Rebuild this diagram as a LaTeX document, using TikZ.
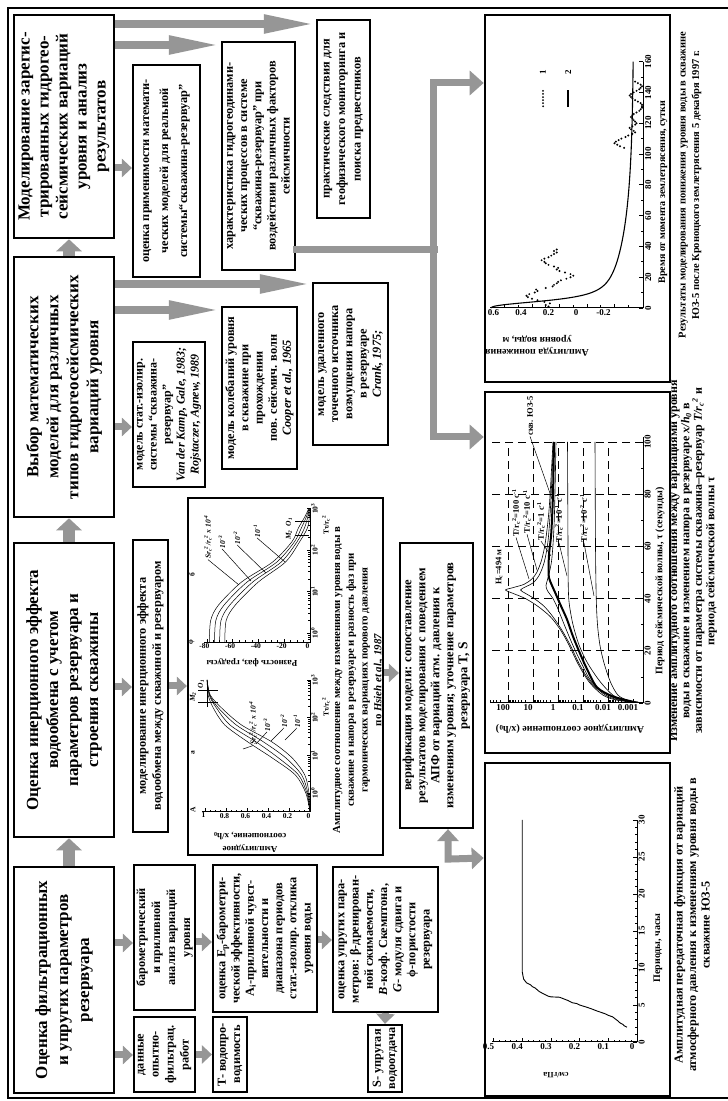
\documentclass[tikz,border=0pt]{standalone}
\usepackage{fontspec}
\setmainfont{Liberation Serif}
\usetikzlibrary{arrows.meta,calc}
\definecolor{agray}{RGB}{150,150,150}
\newcommand{\mysub}[1]{\textsubscript{#1}}
\newcommand{\mysup}[1]{\textsuperscript{#1}}
\begin{document}
\begin{tikzpicture}[x=1pt,y=-1pt,rotate=90,transform shape,
 every node/.style={font=\bfseries},
 mbox/.style={draw,line width=2.6pt,align=center,inner sep=0pt,font=\fontsize{17}{20}\selectfont\bfseries},
 sbox/.style={draw,line width=2.2pt,align=center,inner sep=0pt,font=\fontsize{12.3}{14.2}\selectfont\bfseries},
 pframe/.style={draw,line width=2.6pt,inner sep=0pt},
 bigarr/.style={draw=agray,line width=12pt,-{Triangle[length=12pt,width=25pt]}},
 smarr/.style={draw=agray,line width=7pt,-{Triangle[length=10pt,width=18pt]}},
 lgarr/.style={draw=agray,line width=8pt,-{Triangle[length=52pt,width=17pt]}},
 connln/.style={draw=agray,line width=7pt,line cap=rect},
 connarr/.style={draw=agray,line width=7pt,-{Triangle[length=14pt,width=24pt]}},
 axln/.style={line width=1pt},
 tk/.style={line width=0.6pt},
 tlab/.style={font=\fontsize{9}{10}\selectfont\bfseries,inner sep=1.5pt},
 ytlab/.style={font=\fontsize{9}{10}\selectfont\bfseries,inner sep=1.5pt,rotate=-90,anchor=north},
 ctlab/.style={font=\fontsize{7.5}{8}\selectfont\bfseries,inner sep=1pt},
 cytlab/.style={font=\fontsize{7.5}{8}\selectfont\bfseries,inner sep=1pt,rotate=-90,anchor=north},
 alab/.style={font=\fontsize{10}{12}\selectfont\bfseries,align=center,inner sep=0pt},
 captxt/.style={align=center,inner sep=0pt},
 gridd/.style={line width=0.9pt,dash pattern=on 8pt off 5pt},
 leadln/.style={line width=0.5pt},
 clab/.style={font=\fontsize{7.5}{8}\selectfont\bfseries\itshape,inner sep=0.5pt},
 plab/.style={font=\fontsize{8.5}{9}\selectfont\bfseries,inner sep=0.5pt},
]
\fill[white] (0,0) rectangle (1101,728);
\useasboundingbox (0,0) rectangle (1101,728);
\draw[line width=2.6pt] (3,728) -- (3,8) -- (1093,8) -- (1093,728);

% main boxes
\node[mbox,minimum width=223pt,minimum height=100pt,font=\fontsize{17}{19}\selectfont\bfseries] (M1) at (974.5,64) {Моделирование зарегис-\\трированных гидрогео-\\сейсмических вариаций\\уровня и анализ\\результатов};
\node[mbox,minimum width=260pt,minimum height=100pt] (M2) at (714,64) {Выбор математических\\моделей для различных\\типов гидрогеосейсмических\\вариаций уровня};
\node[mbox,minimum width=294pt,minimum height=100pt] (M3) at (411,64) {Оценка инерционного эффекта\\водообмена с учетом\\параметров резервуара и\\строения скважины};
\node[mbox,minimum width=226pt,minimum height=100pt,font=\fontsize{17}{21}\selectfont\bfseries] (M4) at (121,64) {Оценка фильтрационных\\и упругих параметров\\резервуара};

% sub boxes
\node[sbox,minimum width=212pt,minimum height=67pt,font=\fontsize{12.3}{19}\selectfont\bfseries] (A1) at (930,166.5) {оценка применимости математи-\\ческих моделей для реальной\\системы“скважина-резервуар”};
\node[sbox,minimum width=145pt,minimum height=72pt,font=\fontsize{12}{14}\selectfont\bfseries] (B1) at (686.5,169) {модель стат.-изолир.\\системы “скважина-\\резервуар”\\\textit{Van der Kamp, Gale, 1983;}\\\textit{Rojstaczer, Agnew, 1989}};
\node[sbox,minimum width=292pt,minimum height=35pt,font=\fontsize{12.3}{15}\selectfont\bfseries] (C1) at (415,150.5) {моделирование инерционного эффекта\\водообмена между скважиной и резервуаром};
\node[sbox,minimum width=145pt,minimum height=61pt,font=\fontsize{12.3}{15}\selectfont\bfseries] (D1) at (163.5,164.5) {барометрический\\и приливной\\анализ вариаций\\уровня};
\node[sbox,minimum width=75pt,minimum height=61pt,font=\fontsize{12.3}{15}\selectfont\bfseries] (D0) at (46.5,164.5) {данные\\опытно-\\фильтрац.\\работ};
\node[sbox,minimum width=228pt,minimum height=73pt] (A2) at (945,258.5) {характеристика гидрогеодинами-\\ческих процессов в системе\\“скважина-резервуар” при\\воздействии различных факторов\\сейсмичности};
\node[sbox,minimum width=162pt,minimum height=75pt] (B2) at (713,259.5) {модель колебаний уровня\\в скважине при\\прохождении\\пов. сейсмич. волн\\\textit{Cooper et al., 1965}};
\node[sbox,minimum width=198pt,minimum height=53pt,font=\fontsize{12.3}{15.5}\selectfont\bfseries] (A3) at (982,343.5) {практические следствия для\\геофизического мониторинга и\\поиска предвестников};
\node[sbox,minimum width=162pt,minimum height=75pt] (B3) at (737,350.5) {модель удаленного\\точечного источника\\возмущения напора\\в резервуаре\\\textit{Crank, 1975;}};
\node[sbox,minimum width=357pt,minimum height=195pt] (CH) at (424.5,285.5) {};
\node[sbox,minimum width=285pt,minimum height=73pt,font=\fontsize{12.5}{14}\selectfont\bfseries] (V) at (415.5,436.5) {верификация модели: сопоставление\\результатов моделирования с поведением\\АПФ от вариаций атм. давления к\\изменениям уровня; уточнение параметров\\резервуара {\fontsize{13.5}{14}\selectfont T, S}};
\node[sbox,minimum width=75pt,minimum height=34pt] (E1) at (46.5,230) {T- водопро-\\водимость};
\node[sbox,minimum width=147pt,minimum height=104pt] (E2) at (162.5,265) {оценка E\mysub{p}-барометри-\\ческой эффективности,\\A\mysub{i}-приливной чувст-\\вительности и\\диапазона периодов\\стат.-изолир. отклика\\уровня воды};
\node[sbox,minimum width=145pt,minimum height=105pt] (F1) at (161.5,385.5) {оценка упругих пара-\\метров: β-дренирован-\\ной сжимаемости,\\\textit{B}-коэф. Скемптона,\\\textit{G}- модуля сдвига и\\ϕ-пористости\\резервуара};
\node[sbox,minimum width=67pt,minimum height=34pt] (F2) at (42.5,385) {S- упругая\\водоотдача};

% plot frames
\node[pframe,minimum width=367pt,minimum height=185pt] (P1) at (902.5,577.5) {};
\node[pframe,minimum width=361pt,minimum height=185pt] (P2) at (528.5,577.5) {};
\node[pframe,minimum width=333pt,minimum height=185pt] (P3) at (171.5,577.5) {};

% arrows between main boxes
\draw[bigarr] ($(M4.east)+(0,5)$) -- ($(M3.west)+(0,5)$);
\draw[bigarr] ($(M3.east)+(0,5)$) -- ($(M2.west)+(0,5)$);
\draw[bigarr] ($(M2.east)+(0,5)$) -- ($(M1.west)+(0,5)$);
% short arrows
\draw[smarr] ($(M1.south)+(-41.5,0)$) -- ($(A1.north)+(3,0)$);
\draw[smarr] ($(M2.south)+(-40,0)$) -- ($(B1.north)+(-12.5,0)$);
\draw[smarr] ($(M3.south)+(3,0)$) -- ($(C1.north)+(-1,0)$);
\draw[smarr] ($(M4.south)+(37,0)$) -- ($(D1.north)+(-5.5,0)$);
\draw[smarr] ($(M4.south)+(-75,0)$) -- ($(D0.north)+(-0.5,0)$);
\draw[smarr] ($(D1.south)+(-4.5,0)$) -- ($(E2.north)+(-3.5,0)$);
\draw[smarr] (D0.south) -- (E1.north);
\draw[smarr] ($(E2.south)+(-1.5,0)$) -- ($(F1.north)+(-0.5,0)$);
\draw[smarr] (F1.west) -- (F2.east);
\draw[smarr] (C1.south) -- ($(CH.north)+(-9.5,0)$);
\draw[smarr] ($(CH.south)+(3.5,0)$) -- ($(V.north)+(12.5,0)$);
% long arrows
\draw[lgarr] ($(M1.south)+(102.5,0)$) -- ($(A3.north)+(95,0)$);
\draw[lgarr] ($(M1.south)+(81.5,0)$) -- ($(A2.north)+(111,0)$);
\draw[lgarr] ($(M2.south)+(103,0)$) -- ($(B3.north)+(80,0)$);
\draw[lgarr] ($(M2.south)+(77,0)$) -- ($(B2.north)+(78,0)$);
% connector to plots
\coordinate (hubA) at (1018,433);
\coordinate (hubB) at (664,433);
\draw[connln] ($(A2.south)+(-94,0)$) -- ($(A2.south)+(-94,138)$);
\draw[connln] (hubA) -- (hubB);
\draw[connarr] (hubA) -- ($(P1.north)+(115.5,0)$);
\draw[connarr] (hubB) -- ($(P2.north)+(135.5,0)$);
\draw[draw=agray,line width=7pt,{Triangle[length=12pt,width=21pt]}-{Triangle[length=12pt,width=21pt]}] ($(V.west)+(0,11.5)$) -- ++(-30,0) -- ($(P3.north)+(71.5,0)$);

% ===== Plot 1 =====
\begin{scope}[shift={(793,587)},x=1.54pt,y=137.5pt]
 \draw[axln] (0,0.705) -- (0,-0.41) -- (160,-0.41);
 \foreach \t in {0,20,...,160} {\draw[tk] (\t,-0.41) -- ++(0pt,4pt); \node[tlab,anchor=north] at (\t,-0.41) {\t};}
 \foreach \t in {10,30,...,150} \draw[tk] (\t,-0.41) -- ++(0pt,2.5pt);
 \foreach \v/\l in {0.6/0.6,0.4/0.4,0.2/0.2,0/0,-0.2/-0.2} {\draw[tk] (0,\v) -- ++(4pt,0pt); \node[ytlab,xshift=-11pt] at (0,\v) {\l};}
 \foreach \v in {0.5,0.3,0.1,-0.1,-0.3} \draw[tk] (0,\v) -- ++(2.5pt,0pt);
 \draw[line width=1.1pt,smooth,domain=0.05:160,samples=160] plot (\x,{-0.34+0.8/(1+(\x/5)^2.5)+0.24*exp(-\x/40)});
 \foreach \t/\a in {1/0.28,2/0.30,3/0.27,4/0.31,5/0.36,6/0.40,7/0.43,8/0.44,9/0.42,10/0.38,11/0.36,12/0.37,13/0.30,14/0.25,15/0.24,16/0.22,17/0.21,18/0.19,19/0.15,20/0.12,21/0.10,22/0.12,23/0.16,24/0.20,25/0.22,26/0.21,27/0.24,28/0.28,29/0.30,30/0.31,31/0.33,32/0.31,33/0.28,34/0.26,35/0.24,36/0.22,37/0.24,38/0.22,
  104/-0.27,105/-0.24,106/-0.22,107/-0.20,108/-0.21,109/-0.23,110/-0.25,111/-0.28,112/-0.30,
  113/-0.33,114/-0.35,115/-0.34,116/-0.32,117/-0.31,118/-0.33,119/-0.35,120/-0.36,121/-0.35,122/-0.34,123/-0.33,124/-0.32,125/-0.33,126/-0.34,127/-0.36,128/-0.38,129/-0.39,130/-0.40,131/-0.40,132/-0.40,133/-0.39,134/-0.37,135/-0.35,136/-0.33,137/-0.32,138/-0.31,139/-0.32,140/-0.34,141/-0.36,142/-0.38,143/-0.39,144/-0.40,145/-0.39,146/-0.37,147/-0.35}
  \fill (\t,\a) circle (1.1pt);
 \foreach \t in {131,133,...,141} \fill (\t,0.32) circle (1pt);
 \node[tlab] at (153,0.32) {1};
 \draw[line width=1.1pt] (130.5,0.138) -- (141.5,0.138);
 \node[tlab] at (153,0.138) {2};
\end{scope}
\node[alab] (x1) at (909,663) {Время от момента землетрясения, сутки};
\node[alab,rotate=90] (y1) at (755,537) {Амплитуда понижения\\уровня воды, м};
\node[captxt,font=\fontsize{10.5}{13.5}\selectfont\bfseries] (c1) at (916,690) {Результаты моделирования понижения уровня воды в скважине\\ЮЗ-5 после Кроноцкого землетрясения 5 декабря 1997 г.};

% ===== Plot 2 =====
\begin{scope}[shift={(398,558)},x=2.61pt,y=25pt]
 \foreach \t in {20,40,60,80,100} \draw[gridd] (\t,-3.4) -- (\t,2.72);
 \foreach \l in {-2,...,2} \draw[gridd] (0,\l) -- (100,\l);
 \draw[axln] (0,2.72) -- (0,-3.4) -- (102,-3.4);
 \foreach \t in {0,20,...,100} {\draw[tk] (\t,-3.4) -- ++(0pt,4pt); \node[tlab,anchor=north] at (\t,-3.4) {\t};}
 \foreach \t in {10,30,...,90} \draw[tk] (\t,-3.4) -- ++(0pt,2.5pt);
 \foreach \l/\s in {-3/0.001,-2/0.01,-1/0.1,0/1,1/10,2/100} {\draw[tk] (0,\l) -- ++(4pt,0pt); \node[ytlab,xshift=-5pt] at (0,\l) {\s};}
 \foreach \d in {-3,...,1} \foreach \k in {2,...,9} \draw[tk] (0,{\d+log10(\k)}) -- ++(2.5pt,0pt);
 \foreach \k in {2,...,5} \draw[tk] (0,{2+log10(\k)}) -- ++(2.5pt,0pt);
 \draw[line width=0.6pt] plot[smooth] coordinates {(0.3,-3.2) (1,-2.4) (3,-1.8) (8,-1.25) (15,-0.8) (22,-0.45) (28,-0.1) (33,0.3) (37,0.8) (40,1.3) (42,1.8) (43.3,2.1) (44.2,1.8) (45.5,1.35) (47.5,1.05) (50,0.85) (55,0.65) (62,0.5) (75,0.35) (100,0.2)};
 \draw[line width=0.6pt] plot[smooth] coordinates {(0.3,-3.2) (1,-2.5) (3,-1.9) (8,-1.3) (15,-0.85) (22,-0.5) (28,-0.15) (33,0.2) (37,0.55) (40,0.95) (42,1.3) (43.3,1.5) (44.5,1.3) (46,1.0) (49,0.75) (54,0.55) (62,0.4) (75,0.3) (100,0.18)};
 \draw[line width=0.6pt] plot[smooth] coordinates {(0.3,-3.2) (1,-2.6) (3,-2.0) (8,-1.35) (15,-0.95) (22,-0.6) (30,-0.25) (36,0.0) (40,0.2) (43,0.42) (45,0.48) (48,0.4) (55,0.25) (70,0.15) (100,0.08)};
 \draw[line width=0.6pt] plot[smooth] coordinates {(0.3,-3.2) (1,-2.7) (3,-2.2) (8,-1.7) (15,-1.2) (22,-0.85) (30,-0.6) (38,-0.45) (45,-0.41) (60,-0.4) (100,-0.38)};
 \draw[line width=0.6pt] plot[smooth] coordinates {(0.3,-3.2) (1,-2.8) (3,-2.4) (8,-2.1) (15,-1.85) (22,-1.68) (30,-1.58) (40,-1.53) (60,-1.5) (100,-1.48)};
 \draw[line width=2pt] plot[smooth] coordinates {(0.5,-3.0) (2.5,-2.2) (6,-1.56) (13,-1.16) (19,-0.88) (25.5,-0.6) (32,-0.36) (38,-0.08) (42,0.1) (45,0.24) (48,0.36) (52,0.38) (58,0.35) (65,0.27) (80,0.2) (100,0.16)};
\end{scope}
\node[plab] (hc) at (534,499) {H\mysub{c}=494 м};
\node[plab] (r100) at (588,516) {T/r\mysub{c}\mysup{2}=100 c\mysup{-1}};
\node[plab] (r10) at (589,527) {T/r\mysub{c}\mysup{2}=10 c\mysup{-1}};
\node[plab] (r1) at (580,541) {T/r\mysub{c}\mysup{2}=1 c\mysup{-1}};
\node[plab] (r01) at (583,559) {T/r\mysub{c}\mysup{2}=10\mysup{-1} c\mysup{-1}};
\node[plab] (r001) at (583,584) {T/r\mysub{c}\mysup{2}=10\mysup{-2} c\mysup{-1}};
\node[plab] (skv) at (685,530) {скв. ЮЗ-5};
\draw[leadln] (522,529) -- (r100.west);
\draw[leadln] (531,537) -- (r10.west);
\draw[leadln] (545,551) -- (r1.west);
\draw[leadln] (525,567) -- (r01.west);
\draw[leadln] (505,594) -- (r001.west);
\draw[leadln] (602,552) -- (skv.west);
\node[alab] (x2) at (520,660) {Период сейсмической волны, τ (секунды)};
\node[alab,rotate=90] (y2) at (372,570) {Амплитудное соотношение (x/h\mysub{0})};
\node[captxt,font=\fontsize{12}{12.4}\selectfont\bfseries] (c2) at (540,693) {Изменение амплитудного соотношения между вариациями уровня\\воды в скважине и изменением напора в резервуаре \textit{x/h\mysub{0}} в\\зависимости от параметра системы скважина–резервуар \textit{T/r\mysub{c}\mysup{2}} и\\периода сейсмической волны τ};

% ===== Plot 3 =====
\begin{scope}[shift={(59,637)},x=7.4pt,y=287pt]
 \draw[axln] (0,0.505) -- (0,0) -- (30,0);
 \foreach \t in {0,5,...,30} {\draw[tk] (\t,0) -- ++(0pt,4pt); \node[tlab,anchor=north] at (\t,0) {\t};}
 \foreach \t in {1,...,29} \draw[tk] (\t,0) -- ++(0pt,2pt);
 \foreach \v in {0,0.1,0.2,0.3,0.4,0.5} {\draw[tk] (0,\v) -- ++(4pt,0pt); \node[ytlab,xshift=-5pt] at (0,\v) {\v};}
 \foreach \i in {1,...,25} \draw[tk] (0,\i/50) -- ++(2pt,0pt);
 \draw[line width=0.9pt] plot coordinates {(2.0,0.035) (2.2,0.045) (2.4,0.05) (2.6,0.06) (2.8,0.065) (3.1,0.075) (3.4,0.085) (3.6,0.1) (3.8,0.11) (4.0,0.125) (4.2,0.14) (4.5,0.16) (4.7,0.175) (5.0,0.2) (5.2,0.21) (5.3,0.225) (5.6,0.24) (5.9,0.26) (6.05,0.27) (6.1,0.3) (6.2,0.31) (6.4,0.32) (6.6,0.33) (6.8,0.34) (7.3,0.355) (7.5,0.365) (7.7,0.37) (8,0.385) (8.5,0.395) (9.5,0.4) (12,0.4) (16,0.4) (30,0.4)};
\end{scope}
\node[alab] (x3) at (153,658) {Периоды, часы};
\node[alab,rotate=90,font=\fontsize{8}{9}\selectfont\bfseries] (y3) at (26,556) {см/гПа};
\node[captxt,font=\fontsize{12.2}{13.5}\selectfont\bfseries] (c3) at (176,692) {Амплитудная передаточная функция от вариаций\\атмосферного давления к изменениям уровня воды в\\скважине ЮЗ-5};

% ===== CH plot a =====
\begin{scope}[shift={(308,310)},x=37.7pt,y=105pt]
 \draw[axln] (-0.5,1.03) -- (-0.5,0) -- (3,0);
 \foreach \d in {0,1,2,3} {\draw[tk] (\d,0) -- ++(0pt,3.5pt); \node[ctlab,anchor=north] at (\d,0) {10\mysup{\d}};}
 \foreach \d in {0,1,2} \foreach \k in {2,...,9} \draw[tk] ({\d+log10(\k)},0) -- ++(0pt,2pt);
 \foreach \m in {-0.398,-0.301,-0.222,-0.155,-0.097,-0.046} \draw[tk] (\m,0) -- ++(0pt,2pt);
 \foreach \v/\l in {0/0,0.2/0.2,0.4/0.4,0.6/0.6,0.8/0.8,1/1} {\draw[tk] (-0.5,\v) -- ++(3.5pt,0pt); \node[cytlab,xshift=-1.5pt] at (-0.5,\v) {\l};}
 \foreach \i in {1,...,20} \draw[tk] (-0.5,\i/20) -- ++(2pt,0pt);
 \draw[line width=0.5pt] plot[smooth] coordinates {(-0.5,0) (0,0.04) (0.48,0.14) (0.93,0.36) (1.35,0.59) (1.8,0.81) (2.25,0.92) (2.6,0.97) (3,0.98)};
 \draw[line width=0.5pt] plot[smooth] coordinates {(-0.5,0) (0,0.03) (0.48,0.11) (0.93,0.30) (1.35,0.51) (1.8,0.76) (2.25,0.89) (2.6,0.96) (3,0.98)};
 \draw[line width=0.5pt] plot[smooth] coordinates {(-0.5,0) (0,0.02) (0.48,0.08) (0.93,0.23) (1.35,0.44) (1.8,0.70) (2.25,0.87) (2.6,0.955) (3,0.98)};
 \draw[line width=0.5pt] plot[smooth] coordinates {(-0.5,0) (0,0.01) (0.48,0.05) (0.93,0.17) (1.35,0.36) (1.8,0.65) (2.25,0.84) (2.6,0.95) (3,0.98)};
\end{scope}
% ===== CH plot b =====
\begin{scope}[shift={(468,310)},x=41.5pt,y=1.29pt]
 \draw[axln] (-0.22,82) -- (-0.22,0) -- (3,0);
 \foreach \d in {0,1,2,3} {\draw[tk] (\d,0) -- ++(0pt,3.5pt); \node[ctlab,anchor=north] at (\d,0) {10\mysup{\d}};}
 \foreach \d in {0,1,2} \foreach \k in {2,...,9} \draw[tk] ({\d+log10(\k)},0) -- ++(0pt,2pt);
 \foreach \m in {-0.155,-0.097,-0.046} \draw[tk] (\m,0) -- ++(0pt,2pt);
 \foreach \v/\l in {0/0,20/-20,40/-40,60/-60,80/-80} {\draw[tk] (-0.22,\v) -- ++(3.5pt,0pt); \node[cytlab,xshift=-2.5pt] at (-0.22,\v) {\l};}
 \foreach \v in {5,10,...,80} \draw[tk] (-0.22,\v) -- ++(2pt,0pt);
 \draw[line width=0.5pt] plot[smooth] coordinates {(-0.22,78) (0.3,77) (0.67,71) (1.23,53) (1.71,29) (2.2,14) (2.53,9) (2.8,4) (3,1)};
 \draw[line width=0.5pt] plot[smooth] coordinates {(-0.22,74) (0.3,73) (0.67,66.7) (1.23,48.7) (1.71,25.7) (2.2,12) (2.53,6.7) (2.8,2.8) (3,0.7)};
 \draw[line width=0.5pt] plot[smooth] coordinates {(-0.22,70) (0.3,69) (0.67,62.3) (1.23,44.3) (1.71,22.3) (2.2,10) (2.53,4.3) (2.8,1.7) (3,0.3)};
 \draw[line width=0.5pt] plot[smooth] coordinates {(-0.22,66) (0.3,65) (0.67,58) (1.23,40) (1.71,19) (2.2,8) (2.53,2) (2.8,0.5) (3,0)};
\end{scope}
% CH labels
\node[ctlab] (ta) at (394,326) {Tτ/r\mysub{c}\mysup{2}};
\node[ctlab] (tb) at (576,326) {Tτ/r\mysub{c}\mysup{2}};
\node[alab,rotate=90,font=\fontsize{9}{13}\selectfont\bfseries] (ya) at (259,250) {Амплитудное\\соотношение, x/h\mysub{0}};
\node[alab,rotate=90,font=\fontsize{9}{10}\selectfont\bfseries] (yb) at (438,252) {Разность фаз, градусы};
\node[ctlab] (la) at (348,193) {а};
\node[ctlab] (lb) at (526,192) {б};
\node[ctlab] (lA) at (291,193) {A};
\node[ctlab] (lF) at (459,192) {φ};
\node[clab] (sa1) at (378,253) {Sr\mysub{c}\mysup{2}/r\mysub{c}\mysup{2} x 10\mysup{-4}};
\node[clab] (sa2) at (376,267) {10\mysup{-3}};
\node[clab] (sa3) at (380,284) {10\mysup{-2}};
\node[clab] (sa4) at (380,297) {10\mysup{-1}};
\draw[leadln] (352,243) -- (sa1.west);
\draw[leadln] (357,256) -- (sa2.west);
\draw[leadln] (360,271) -- (sa3.west);
\draw[leadln] (361,285) -- (sa4.west);
\node[clab] (sb1) at (564,208) {Sr\mysub{c}\mysup{2}/r\mysub{c}\mysup{2} x 10\mysup{-4}};
\node[clab] (sb2) at (559,222) {10\mysup{-3}};
\node[clab] (sb3) at (563,237) {10\mysup{-2}};
\node[clab] (sb4) at (570,257) {10\mysup{-1}};
\draw[leadln] (516,239) -- (sb1.west);
\draw[leadln] (520,251) -- (sb2.west);
\draw[leadln] (528,266) -- (sb3.west);
\draw[leadln] (539,285) -- (sb4.west);
% M2 O1 marks
\draw[leadln] (399,198) -- (399,218);
\draw[leadln] (411,198) -- (411,218);
\draw[leadln] (394,207) -- (416,207);
\node[clab] (ma) at (404,193) {M\mysub{2}};
\node[clab] (oa) at (417,201) {O\mysub{1}};
\draw[leadln] (566,295) -- (566,309);
\draw[leadln] (580,295) -- (580,309);
\node[clab] (mb) at (566,289) {M\mysub{2}};
\node[clab] (ob) at (579,289) {O\mysub{1}};
\node[captxt,font=\fontsize{10.8}{13.7}\selectfont\bfseries] (cch) at (421,358) {Амплитудное соотношение между изменениями уровня воды в\\скважине и напора в резервуаре и  разность фаз при\\гармонических вариациях порового давления\\по \textit{Hsieh et al., 1987}};
\end{tikzpicture}
\end{document}
